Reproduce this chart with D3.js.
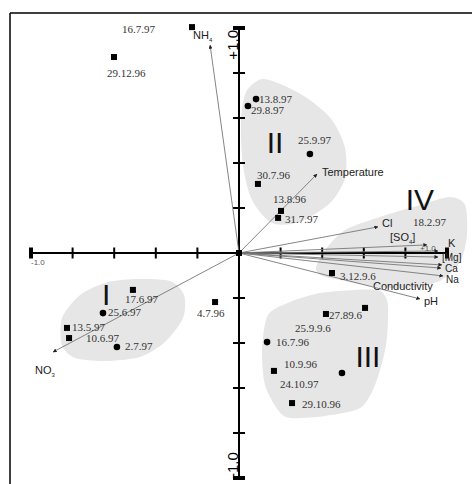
<!DOCTYPE html>
<html><head><meta charset="utf-8">
<script src="https://cdn.jsdelivr.net/npm/d3@7"></script>
<style>body{margin:0;background:#fff}svg{display:block}</style>
</head><body>
<svg id="c" width="472" height="484"></svg>
<script>
// ---- data ----
const axisTicks = [-1, -0.8, -0.6, -0.4, -0.2, 0, 0.2, 0.4, 0.6, 0.8, 1];
const axisTickLabels = ["-1.0", "+1.0"];

const vecNames = ["NH4", "Temperature", "Cl", "SO4", "K", "Mg", "Ca", "Conductivity", "Na", "pH", "NO3"];
const vecX = [-0.139, 0.375, 0.668, 0.904, 0.957, 0.957, 0.976, 0.971, 0.981, 0.870, -0.894];
const vecY = [0.924, 0.351, 0.116, 0.036, 0.009, -0.018, -0.053, -0.067, -0.102, -0.204, -0.440];

const vecLabelParts = [[["NH",0],["4",1]], [["Temperature",0]], [["Cl",0]], [["[SO",0],["4",1],["]",0]], [["K",0]], [["[Mg]",0]], [["Ca",0]], [["Conductivity",0]], [["Na",0]], [["pH",0]], [["NO",0],["3",1]]];
const vecLabelX = [-0.221, 0.399, 0.688, 0.726, 1.005, 0.976, 0.990, 0.644, 0.995, 0.889, -0.981];
const vecLabelY = [0.969, 0.360, 0.133, 0.071, 0.044, -0.018, -0.068, -0.147, -0.118, -0.213, -0.520];

const ptShape = ["s","s","c","c","c","s","s","s","s","s","s","c","s","c","s","s","c","s","s","s","c","s"];
const ptX = [-0.226, -0.601, 0.082, 0.043, 0.341, 0.091, 0.202, 0.188, 0.447, 0.418, 0.606, 0.135, 0.168, 0.495, 0.255, -0.510, -0.654, -0.115, -0.827, -0.817, -0.587, 0];
const ptY = [1.004, 0.871, 0.684, 0.653, 0.440, 0.307, 0.187, 0.156, -0.089, -0.271, -0.244, -0.396, -0.524, -0.533, -0.667, -0.164, -0.267, -0.218, -0.333, -0.378, -0.418, 0];

const dateText = ["16.7.97","29.12.96","13.8.97","29.8.97","25.9.97","30.7.96","13.8.96","31.7.97","18.2.97","3.12.9.6","27.89.6","25.9.9.6","16.7.96","10.9.96","24.10.97","29.10.96","17.6.97","25.6.97","4.7.96","13.5.97","10.6.97","2.7.97"];
const dateX = [-0.5625, -0.635, 0.096, 0.058, 0.284, 0.087, 0.163, 0.221, 0.837, 0.486, 0.433, 0.269, 0.178, 0.216, 0.197, 0.303, -0.548, -0.630, -0.202, -0.803, -0.736, -0.548];
const dateY = [0.996, 0.800, 0.684, 0.636, 0.502, 0.347, 0.240, 0.151, 0.138, -0.102, -0.276, -0.333, -0.396, -0.493, -0.582, -0.671, -0.204, -0.262, -0.267, -0.329, -0.378, -0.413];

const groupNames = ["I", "II", "III", "IV"];
const groupX = [-0.639, 0.173, 0.620, 0.870];
const groupY = [-0.182, 0.493, -0.458, 0.240];

const hullI_X = [-0.851,-0.764,-0.644,-0.5,-0.332,-0.264,-0.269,-0.356,-0.476,-0.644,-0.788,-0.851];
const hullI_Y = [-0.289,-0.187,-0.133,-0.116,-0.124,-0.187,-0.289,-0.396,-0.462,-0.48,-0.467,-0.409];
const hullII_X = [0.111,0.221,0.341,0.447,0.51,0.51,0.438,0.293,0.159,0.0625,0.019,0.01,0.034];
const hullII_Y = [0.773,0.742,0.68,0.591,0.467,0.333,0.222,0.138,0.133,0.236,0.391,0.591,0.716];
const hullIII_X = [0.139,0.245,0.389,0.558,0.678,0.716,0.707,0.654,0.582,0.413,0.245,0.1875,0.125,0.111];
const hullIII_Y = [-0.276,-0.218,-0.178,-0.164,-0.169,-0.231,-0.409,-0.587,-0.689,-0.724,-0.733,-0.698,-0.587,-0.431];
const hullIV_X = [0.37,0.413,0.51,0.678,0.87,1.014,1.087,1.096,1.063,0.966,0.798,0.63,0.486,0.399];
const hullIV_Y = [-0.067,0.013,0.102,0.16,0.213,0.249,0.213,0.08,-0.04,-0.124,-0.156,-0.147,-0.12,-0.102];

// ---- drawing ----
const svg = d3.select("#c");
const x = d3.scaleLinear().domain([-1, 1]).range([31, 447]);
const y = d3.scaleLinear().domain([-1, 1]).range([478, 28]);
const sans = "'Liberation Sans', Arial, sans-serif";
const serif = "'Liberation Serif', 'Times New Roman', serif";
const tightLabels = new Set(["Mg", "Ca", "Na"]);

// frame
svg.append("line").attr("x1", 10).attr("x2", 472).attr("y1", 13).attr("y2", 13).attr("stroke", "#000").attr("stroke-width", 1.5);
svg.append("line").attr("x1", 10).attr("x2", 10).attr("y1", 13).attr("y2", 484).attr("stroke", "#000").attr("stroke-width", 1.5);

// hulls
const hulls = [[hullI_X, hullI_Y], [hullII_X, hullII_Y], [hullIII_X, hullIII_Y], [hullIV_X, hullIV_Y]];
const hullLine = d3.line().x(d => x(d[0])).y(d => y(d[1])).curve(d3.curveCardinalClosed.tension(0.2));
hulls.forEach(([hx, hy]) => {
  svg.append("path").attr("d", hullLine(hx.map((v, i) => [v, hy[i]]))).attr("fill", "#e6e6e6").attr("stroke", "none");
});

// group roman numerals
groupNames.forEach((g, i) => {
  svg.append("text").attr("x", x(groupX[i])).attr("y", y(groupY[i])).attr("text-anchor", "middle")
    .attr("dy", "0.36em").attr("font-family", sans).attr("font-size", 30).attr("fill", "#111").text(g);
});

// axes
const x0 = x(0), y0 = y(0);
svg.append("line").attr("x1", x(-1)).attr("x2", x(1)).attr("y1", y0).attr("y2", y0).attr("stroke", "#000").attr("stroke-width", 2);
svg.append("line").attr("x1", x0).attr("x2", x0).attr("y1", y(1)).attr("y2", y(-1)).attr("stroke", "#000").attr("stroke-width", 2);
axisTicks.forEach(t => {
  const end = Math.abs(t) === 1;
  if (t !== 0) {
    svg.append("line").attr("x1", x(t)).attr("x2", x(t)).attr("y1", y0 - 5.5).attr("y2", y0 + 5.5).attr("stroke", "#000").attr("stroke-width", end ? 4 : 2);
    svg.append("line").attr("x1", x0 - 6).attr("x2", x0 + 6).attr("y1", y(t)).attr("y2", y(t)).attr("stroke", "#000").attr("stroke-width", end ? 4 : 2);
  }
});
// axis labels
svg.append("text").attr("transform", `translate(${x0 - 1},${y(1) + 2}) rotate(-90)`).attr("text-anchor", "end")
  .attr("font-family", sans).attr("font-size", 15).attr("fill", "#000").text(axisTickLabels[1]);
svg.append("text").attr("transform", `translate(${x0 - 1},${y(-1)}) rotate(-90)`).attr("text-anchor", "start")
  .attr("font-family", sans).attr("font-size", 15).attr("fill", "#000").text(axisTickLabels[0]);
svg.append("text").attr("x", x(-1)).attr("y", y0 + 12).attr("font-family", sans).attr("font-size", 8).attr("fill", "#555").text(axisTickLabels[0]);
svg.append("text").attr("x", x(0.87)).attr("y", y0 - 2).attr("font-family", sans).attr("font-size", 8).attr("fill", "#555").text(axisTickLabels[1]);

// vectors
svg.append("defs").append("marker").attr("id", "ah").attr("viewBox", "0 0 10 10").attr("refX", 9).attr("refY", 5)
  .attr("markerWidth", 4).attr("markerHeight", 4).attr("markerUnits", "userSpaceOnUse").attr("orient", "auto")
  .append("path").attr("d", "M0,0L10,5L0,10z").attr("fill", "#222");
vecNames.forEach((n, i) => {
  svg.append("line").attr("x1", x0).attr("y1", y0).attr("x2", x(vecX[i])).attr("y2", y(vecY[i]))
    .attr("stroke", "#777").attr("stroke-width", 0.9).attr("marker-end", "url(#ah)");
  const fs = tightLabels.has(n) ? 10 : 11;
  const t = svg.append("text").attr("x", x(vecLabelX[i])).attr("y", y(vecLabelY[i])).attr("dy", "0.35em")
    .attr("font-family", sans).attr("font-size", fs).attr("fill", "#222");
  vecLabelParts[i].forEach(([s, sub]) => {
    t.append("tspan").attr("font-size", sub ? 6 : fs).attr("baseline-shift", sub ? "-3" : null).text(s);
  });
});

// points
ptX.forEach((px, i) => {
  if (ptShape[i] === "s") {
    svg.append("rect").attr("x", x(px) - 3).attr("y", y(ptY[i]) - 3).attr("width", 6).attr("height", 6).attr("fill", "#000");
  } else {
    svg.append("circle").attr("cx", x(px)).attr("cy", y(ptY[i])).attr("r", 3.3).attr("fill", "#000");
  }
});

// date labels
dateText.forEach((d, i) => {
  svg.append("text").attr("x", x(dateX[i])).attr("y", y(dateY[i])).attr("dy", "0.35em")
    .attr("font-family", serif).attr("font-size", 11).attr("fill", "#333").text(d);
});
</script>
</body></html>
